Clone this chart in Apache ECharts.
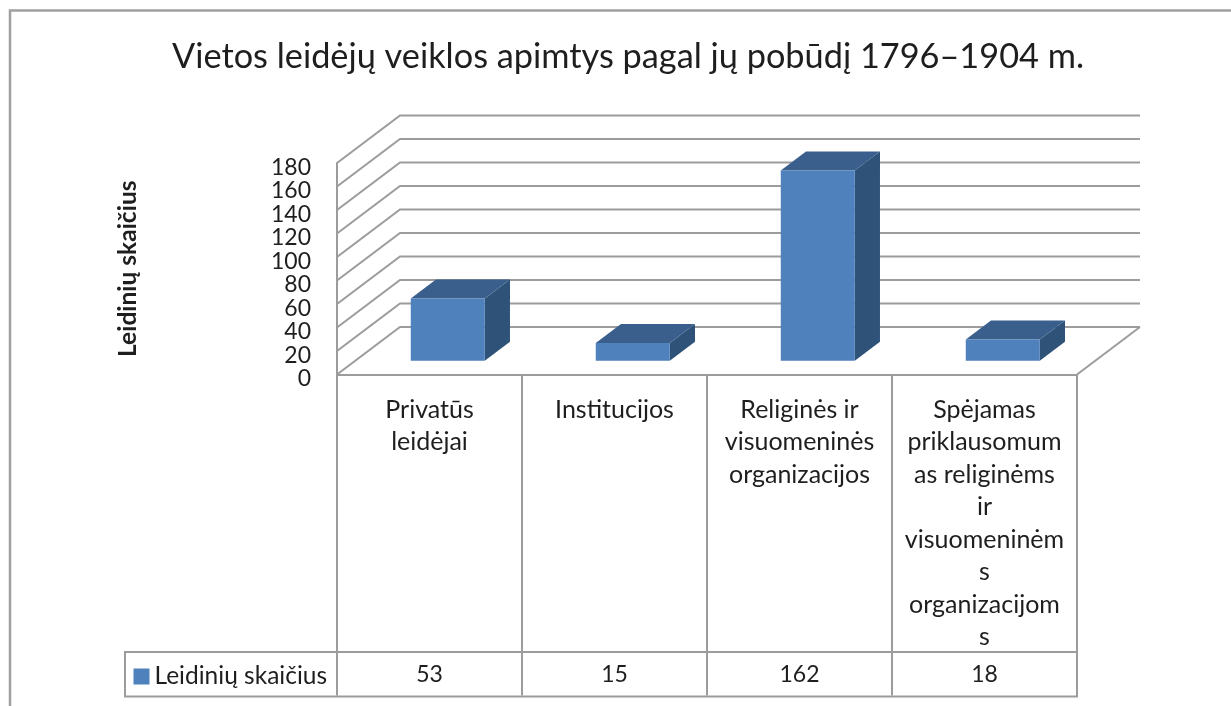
<!DOCTYPE html>
<html><head><meta charset="utf-8">
<style>html,body{margin:0;padding:0;background:#fff}#c{width:1231px;height:706px}</style>
<script src="https://cdn.jsdelivr.net/npm/echarts@6/dist/echarts.min.js"></script>
</head><body><div id="c"></div>
<script>
const categories = ['Privatūs\nleidėjai','Institucijos','Religinės ir\nvisuomeninės\norganizacijos','Spėjamas\npriklausomum\nas religinėms\nir\nvisuomeninėm\ns\norganizacijom\ns'];
const publications = [53, 15, 162, 18];
const yTicks = [0,20,40,60,80,100,120,140,160,180];
const seriesName = 'Leidinių skaičius';
const titleText = 'Vietos leidėjų veiklos apimtys pagal jų pobūdį 1796–1904 m.';

const FONT = 'Lato';
const LINE = '#9c9c9c';
const TEXT = '#1e1e1e';
const DX = 63, DY = 47.5;          // wall depth projection
const BAR_IN = 0.29, BAR_D = 0.4;  // bar position and depth inside the floor
const ROW_Y = 300;                 // data-table row, below the baseline

const chart = echarts.init(document.getElementById('c'), null, {renderer:'canvas'});
chart.setOption({
  animation:false,
  backgroundColor:'#fff',
  title:{text:titleText,left:167,top:35,textStyle:{fontFamily:FONT,fontSize:34.3,fontWeight:'normal',color:TEXT}},
  legend:{left:133.5,top:664,padding:0,data:[{name:seriesName,icon:'rect'}],itemWidth:16,itemHeight:16,itemGap:0,
    selectedMode:false,textStyle:{fontFamily:FONT,fontSize:24.5,color:TEXT}},
  grid:{left:337,top:163,width:740,height:211.5,containLabel:false},
  xAxis:{type:'category',data:categories,
    axisLine:{show:true,lineStyle:{color:LINE,width:2}},
    axisTick:{show:true,alignWithLabel:false,length:321,lineStyle:{color:LINE,width:2}},
    axisLabel:{interval:0,margin:19,verticalAlign:'top',lineHeight:32.5,fontFamily:FONT,fontSize:25,color:TEXT},
    splitLine:{show:false}},
  yAxis:{type:'value',min:0,max:180,interval:20,
    name:seriesName,nameLocation:'middle',nameGap:196,nameRotate:90,
    nameTextStyle:{fontFamily:FONT,fontSize:24.5,fontWeight:'bold',color:TEXT},
    axisLine:{show:true,lineStyle:{color:LINE,width:2}},
    axisTick:{show:false},
    axisLabel:{margin:26,showMinLabel:true,showMaxLabel:true,hideOverlap:false,verticalAlign:'top',lineHeight:9,fontFamily:FONT,fontSize:23,color:TEXT},
    splitLine:{show:false}},
  series:[
    {type:'custom',name:'walls',silent:true,clip:false,z:1,
     data:yTicks.map(v=>[0,v]),encode:{x:0,y:1},
     renderItem(params,api){
       const cs=params.coordSys, y=api.coord([0,api.value(1)])[1], L=cs.x, R=cs.x+cs.width;
       const children=[{type:'polyline',shape:{points:[[L,y],[L+DX,y-DY],[R+DX,y-DY]]},
         style:{fill:null,stroke:LINE,lineWidth:2}}];
       if(api.value(1)===0) children.push({type:'line',shape:{x1:R,y1:y,x2:R+DX,y2:y-DY},style:{stroke:LINE,lineWidth:2}});
       return {type:'group',children};
     }},
    {type:'custom',name:seriesName,clip:false,z:3,
     itemStyle:{color:'#4f81bd'},
     data:publications.map((v,i)=>[i,v]),encode:{x:0,y:1},
     renderItem(params,api){
       const i=api.value(0), v=api.value(1);
       const base=api.coord([i,0]), top=api.coord([i,v]), w=api.size([1,0])[0]*0.4;
       const ox=DX*BAR_IN, oy=DY*BAR_IN, dx=DX*BAR_D, dy=DY*BAR_D;
       const x0=base[0]+ox-w/2, x1=x0+w, yb=base[1]-oy, yt=top[1]-oy;
       return {type:'group',children:[
         {type:'polygon',shape:{points:[[x1,yb],[x1+dx,yb-dy],[x1+dx,yt-dy],[x1,yt]]},style:{fill:'#2f5279'}},
         {type:'polygon',shape:{points:[[x0,yt],[x1,yt],[x1+dx,yt-dy],[x0+dx,yt-dy]]},style:{fill:'#3a5f8d'}},
         {type:'rect',shape:{x:x0,y:yt,width:w,height:yb-yt},style:{fill:'#4f81bd'}},
         {type:'text',style:{x:base[0],y:base[1]+ROW_Y,text:String(v),align:'center',verticalAlign:'middle',
           fontFamily:FONT,fontSize:23,fill:TEXT}}
       ]};
     }}
  ],
  graphic:[
    {type:'polyline',silent:true,shape:{points:[[10,706],[10,10.5],[1231,10.5]]},style:{fill:null,stroke:'#a0a0a0',lineWidth:2.5}},
    {type:'rect',silent:true,shape:{x:125,y:652,width:952,height:44.5},style:{fill:null,stroke:LINE,lineWidth:2}}
  ]
});
</script></body></html>
